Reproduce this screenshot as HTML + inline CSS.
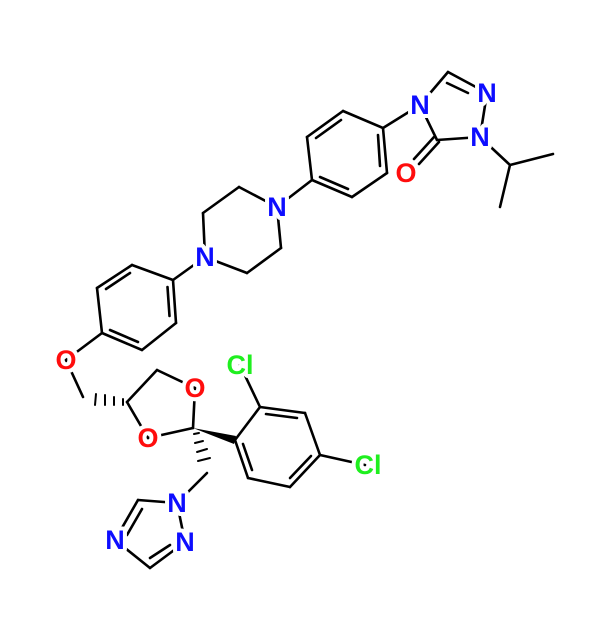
<!DOCTYPE html>
<html><head><style>html,body{margin:0;padding:0;background:#fff}</style></head><body>
<svg width="600" height="615" viewBox="0 0 600 615" xmlns="http://www.w3.org/2000/svg">
<g stroke="#000" stroke-width="2.6" stroke-linecap="round" fill="none">
<!-- triazolone -->
<line x1="420" y1="105" x2="448" y2="72"/>
<line x1="448" y1="72" x2="487" y2="93"/>
<line x1="447" y1="83" x2="468" y2="93"/>
<line x1="487" y1="93" x2="480" y2="137"/>
<line x1="480" y1="137" x2="437" y2="140"/>
<line x1="437" y1="140" x2="420" y2="105"/>
<line x1="439" y1="142" x2="419" y2="164"/>
<line x1="434" y1="137" x2="414" y2="159"/>
<line x1="480" y1="137" x2="510" y2="165"/>
<line x1="510" y1="165" x2="553" y2="154"/>
<line x1="510" y1="165" x2="500" y2="207"/>
<!-- upper phenyl -->
<line x1="420" y1="105" x2="383" y2="128"/>
<line x1="383" y1="128" x2="343" y2="111"/>
<line x1="343" y1="111" x2="307" y2="137"/>
<line x1="307" y1="137" x2="312" y2="180"/>
<line x1="312" y1="180" x2="352" y2="197"/>
<line x1="352" y1="197" x2="387" y2="173"/>
<line x1="387" y1="173" x2="383" y2="128"/>
<line x1="341" y1="120" x2="316" y2="138"/>
<line x1="378" y1="135" x2="380" y2="166"/>
<line x1="320" y1="177" x2="348" y2="189"/>
<line x1="312" y1="180" x2="277" y2="207"/>
<!-- piperazine -->
<line x1="277" y1="207" x2="239" y2="187"/>
<line x1="239" y1="187" x2="203" y2="213"/>
<line x1="203" y1="213" x2="205" y2="257"/>
<line x1="205" y1="257" x2="247" y2="273"/>
<line x1="247" y1="273" x2="281" y2="248"/>
<line x1="281" y1="248" x2="277" y2="207"/>
<line x1="205" y1="257" x2="173" y2="280"/>
<!-- lower phenyl -->
<line x1="173" y1="280" x2="132" y2="265"/>
<line x1="132" y1="265" x2="97" y2="288"/>
<line x1="97" y1="288" x2="102" y2="333"/>
<line x1="102" y1="333" x2="142" y2="350"/>
<line x1="142" y1="350" x2="176" y2="323"/>
<line x1="176" y1="323" x2="173" y2="280"/>
<line x1="130" y1="273" x2="106" y2="289"/>
<line x1="167.5" y1="287" x2="169.5" y2="316"/>
<line x1="110" y1="330" x2="138" y2="342"/>
<line x1="102" y1="333" x2="66" y2="360"/>
<line x1="66" y1="360" x2="83" y2="397"/>
<!-- dioxolane -->
<line x1="127" y1="402" x2="157" y2="370"/>
<line x1="157" y1="370" x2="195" y2="388"/>
<line x1="195" y1="388" x2="193" y2="428"/>
<line x1="127" y1="402" x2="148" y2="438"/>
<line x1="148" y1="438" x2="193" y2="428"/>
<!-- hashed C4-CH2 -->
<line x1="123" y1="399" x2="123" y2="405" stroke-width="2"/>
<line x1="114" y1="397" x2="114" y2="405" stroke-width="2"/>
<line x1="105" y1="395" x2="105" y2="405" stroke-width="2"/>
<line x1="96" y1="394" x2="95" y2="405" stroke-width="2"/>
<!-- hashed C2-CH2 -->
<line x1="194" y1="434" x2="199" y2="433" stroke-width="2"/>
<line x1="195" y1="443" x2="203" y2="441" stroke-width="2"/>
<line x1="197" y1="452" x2="207" y2="449" stroke-width="2"/>
<line x1="198" y1="461" x2="210" y2="458" stroke-width="2"/>
<line x1="207" y1="473" x2="177" y2="503"/>
<!-- triazole -->
<line x1="177" y1="503" x2="138" y2="500"/>
<line x1="138" y1="500" x2="115" y2="540"/>
<line x1="142" y1="509" x2="127" y2="535"/>
<line x1="115" y1="540" x2="150" y2="568"/>
<line x1="150" y1="568" x2="185" y2="542"/>
<line x1="150" y1="558" x2="170" y2="545"/>
<line x1="185" y1="542" x2="177" y2="503"/>
<!-- dichlorophenyl -->
<line x1="235" y1="440" x2="260" y2="407"/>
<line x1="260" y1="407" x2="305" y2="413"/>
<line x1="305" y1="413" x2="320" y2="455"/>
<line x1="320" y1="455" x2="290" y2="487"/>
<line x1="290" y1="487" x2="248" y2="478"/>
<line x1="248" y1="478" x2="235" y2="440"/>
<line x1="266" y1="414" x2="297" y2="418"/>
<line x1="311" y1="456" x2="290" y2="478"/>
<line x1="252" y1="470" x2="243" y2="444"/>
<line x1="260" y1="407" x2="240" y2="365"/>
<line x1="320" y1="455" x2="365" y2="465"/>
</g>
<polygon points="193,428 236,436 234,444" fill="#000"/>
<g font-family="Liberation Sans, sans-serif" font-weight="bold" font-size="27" text-anchor="middle" dominant-baseline="central" stroke="#fff" stroke-width="8" paint-order="stroke" stroke-linejoin="round">
<text x="420" y="105" fill="#0d0dff">N</text>
<text x="487" y="93" fill="#0d0dff">N</text>
<text x="480" y="137" fill="#0d0dff">N</text>
<text x="406" y="173" fill="#ff0d0d">O</text>
<text x="277" y="207" fill="#0d0dff">N</text>
<text x="205" y="257" fill="#0d0dff">N</text>
<text x="66" y="360" fill="#ff0d0d">O</text>
<text x="195" y="388" fill="#ff0d0d">O</text>
<text x="148" y="438" fill="#ff0d0d">O</text>
<text x="177" y="503" fill="#0d0dff">N</text>
<text x="115" y="540" fill="#0d0dff">N</text>
<text x="185" y="542" fill="#0d0dff">N</text>
<text x="240" y="365" fill="#1fef1f">Cl</text>
<text x="368" y="465" fill="#1fef1f">Cl</text>
</g>
</svg>
</body></html>
